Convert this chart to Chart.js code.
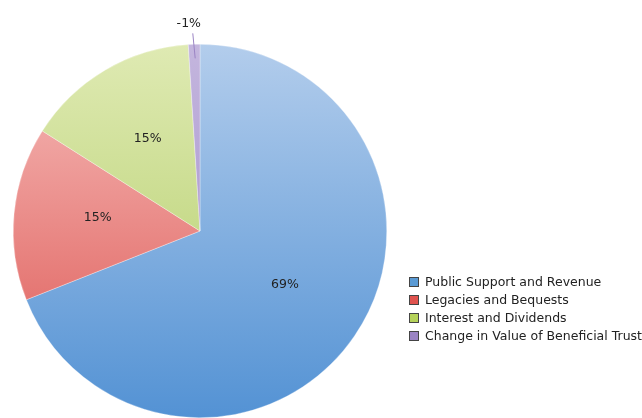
<!DOCTYPE html>
<html><head><meta charset="utf-8">
<script src="https://cdn.jsdelivr.net/npm/chart.js@4/dist/chart.umd.min.js"></script>
<style>html,body{margin:0;padding:0;background:#fff}#w{width:642px;height:418px;position:relative}</style>
</head><body><div id="w"><canvas id="c"></canvas></div>
<script>
const categories = ["Public Support and Revenue","Legacies and Bequests","Interest and Dividends","Change in Value of Beneficial Trust"];
const values = [69, 15, 15, -1];
const valueLabels = ["69%","15%","15%","-1%"];
const gradTop = ["#b3cdec","#f6bebc","#dfeab3","#c4b6de"];
const gradBot = ["#5392d4","#dd5450","#afcb62","#9c86c6"];
const swatch = ["#5b9bd5","#e0534f","#b5d25a","#9b84c4"];
const FONT = "'DejaVu Sans', sans-serif";

function grad(ctx, i){
  const ch = ctx.chart, a = ch.chartArea;
  if(!a) return swatch[i];
  const cy=(a.top+a.bottom)/2, r=Math.min(a.right-a.left,a.bottom-a.top)/2;
  const g = ch.ctx.createLinearGradient(0, cy-r, 0, cy+r);
  g.addColorStop(0, gradTop[i]); g.addColorStop(1, gradBot[i]);
  return g;
}

const labelPlugin = {
  id:'lbl',
  afterDatasetsDraw(chart){
    const ctx = chart.ctx, meta = chart.getDatasetMeta(0);
    ctx.save();
    ctx.font = "12.5px " + FONT; ctx.fillStyle="#222"; ctx.textAlign="center"; ctx.textBaseline="middle";
    meta.data.forEach((arc,i)=>{
      const p = arc.getProps(['x','y','startAngle','endAngle','outerRadius'], true);
      const mid = (p.startAngle+p.endAngle)/2;
      const span = p.endAngle-p.startAngle;
      if (span < 0.2){
        const x1 = p.x + Math.cos(mid)*(p.outerRadius-2) + 1, y1 = p.y + Math.sin(mid)*(p.outerRadius-2)+12;
        const x2 = p.x + Math.cos(mid)*(p.outerRadius+11) - 1, y2 = p.y + Math.sin(mid)*(p.outerRadius+11);
        ctx.strokeStyle="#9b84c4"; ctx.lineWidth=1;
        ctx.beginPath(); ctx.moveTo(x1,y1); ctx.lineTo(x2,y2); ctx.stroke();
        ctx.fillText(valueLabels[i], x2-4, y2-10);
      } else {
        const f = 0.55;
        ctx.fillText(valueLabels[i], p.x + Math.cos(mid)*p.outerRadius*f, p.y + Math.sin(mid)*p.outerRadius*f - 4);
      }
    });
    ctx.restore();
  }
};

const legendPlugin = {
  id:'leg',
  afterDraw(chart){
    const ctx = chart.ctx;
    ctx.save();
    ctx.font = "12.5px " + FONT; ctx.textBaseline="middle"; ctx.textAlign="left"; ctx.fillStyle="#222";
    categories.forEach((c,i)=>{
      const y = 282 + i*18;
      ctx.fillStyle = swatch[i]; ctx.fillRect(409.5, y-4.5, 9, 9);
      ctx.strokeStyle="#444"; ctx.lineWidth=1; ctx.strokeRect(409.5, y-4.5, 9, 9);
      ctx.fillStyle="#222"; ctx.fillText(c, 425, y+0.5);
    });
    ctx.restore();
  }
};

new Chart(document.getElementById('c'), {
  type:'pie',
  data:{ labels:categories, datasets:[{ data:values,
    backgroundColor:(ctx)=>grad(ctx, ctx.dataIndex),
    borderWidth:0.5, borderColor:'rgba(255,255,255,0.6)' }]},
  options:{
    responsive:true, maintainAspectRatio:false, animation:false,
    layout:{padding:{top:44,bottom:0,left:13,right:255}},
    plugins:{legend:{display:false}, tooltip:{enabled:false}}
  },
  plugins:[labelPlugin, legendPlugin]
});
</script></body></html>
